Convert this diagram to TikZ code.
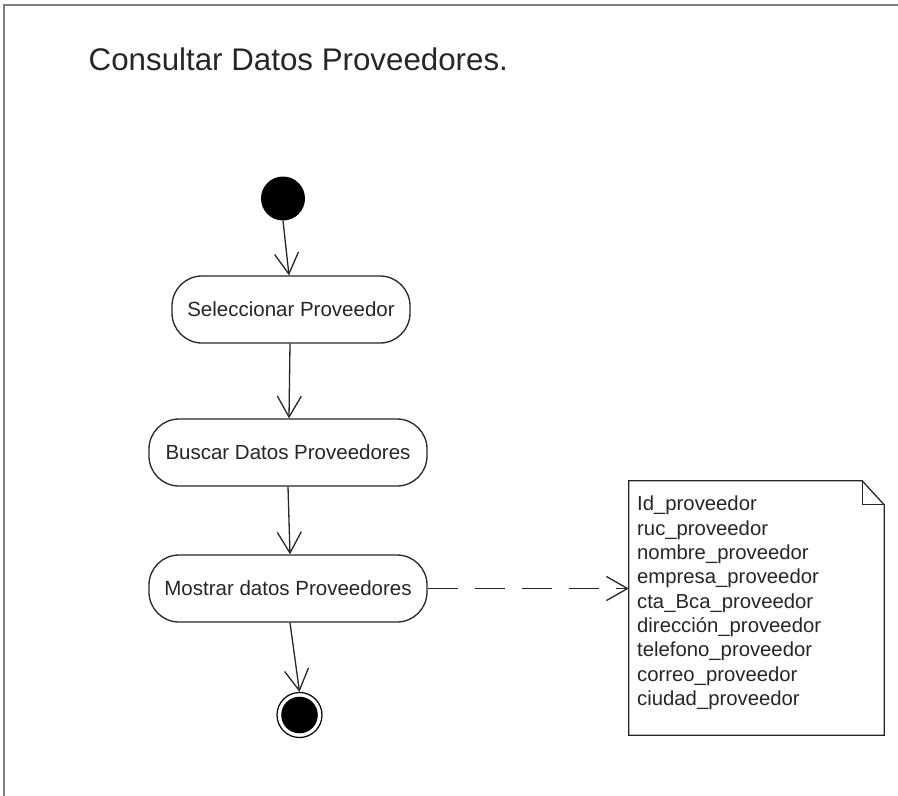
\documentclass[tikz,border=0pt]{standalone}
\usepackage{fontspec}
\setmainfont{Liberation Sans}
\usetikzlibrary{arrows.meta}
\begin{document}
\begin{tikzpicture}[x=1pt,y=-1pt,
  ink/.style={draw=black!85, line width=1.3pt},
  action/.style={ink, rectangle, rounded corners=30pt, minimum height=67pt,
    inner sep=0pt, text height=14.7pt, text depth=0pt,
    font=\fontsize{20.5}{24}\selectfont, text=black!85},
  flow/.style={draw=black!85, line width=1.3pt,
    -{Straight Barb[length=21pt,width=24pt,line width=1.3pt]}},
  dep/.style={flow, dash pattern=on 30pt off 17pt},
  startnode/.style={circle, fill=black, minimum size=44pt, inner sep=0pt},
  endnode/.style={circle, draw=black, line width=1.2pt, minimum size=45pt, inner sep=0pt}
]
\useasboundingbox (0,0) rectangle (898,796);

% frame
\draw[black!50, line width=2pt] (4,796) -- (4,5) -- (898,5);

% title
\node[anchor=base west, inner sep=0pt, font=\fontsize{31.3}{36}\selectfont, text=black!85]
  (title) at (88.5,70) {Consultar Datos Proveedores.};

% activity nodes
\node[startnode] (ini) at (283,198.5) {};
\node[action, minimum width=238pt] (sel) at (291,309.5) {Seleccionar Proveedor};
\node[action, minimum width=278pt] (bus) at (288,452.5) {Buscar Datos Proveedores};
\node[action, minimum width=278pt] (mos) at (288,588.5) {Mostrar datos Proveedores};
\node[endnode] (fin) at (299.5,715) {};
\fill[black] (fin.center) circle (18.3pt);

% note
\node[minimum width=255pt, minimum height=254pt, inner sep=0pt] (notebox) at (756.5,608) {};
\draw[ink, line join=miter]
  (notebox.north west) -- ([xshift=-22pt]notebox.north east)
  -- ([yshift=-24pt]notebox.north east) -- (notebox.south east)
  -- (notebox.south west) -- cycle;
\draw[ink]
  ([xshift=-22pt]notebox.north east) -- ([xshift=-22pt,yshift=-24pt]notebox.north east)
  -- ([yshift=-24pt]notebox.north east);
\node[anchor=north west, inner sep=0pt, align=left, text=black!85,
  font=\fontsize{20.3}{24.3}\selectfont] (notetext) at (637,496)
  {Id\_proveedor\\ruc\_proveedor\\nombre\_proveedor\\empresa\_proveedor\\cta\_Bca\_proveedor\\dirección\_proveedor\\telefono\_proveedor\\correo\_proveedor\\ciudad\_proveedor};

% control flow
\draw[flow] (ini.south) -- ([xshift=-2pt]sel.north);
\draw[flow] ([xshift=-1pt]sel.south) -- ([xshift=1pt]bus.north);
\draw[flow] (bus.south) -- ([xshift=2pt]mos.north);
\draw[flow] ([xshift=2pt]mos.south) -- (fin.north);
\draw[dep] (mos.east) -- (notebox.west |- mos.east);
\end{tikzpicture}
\end{document}
